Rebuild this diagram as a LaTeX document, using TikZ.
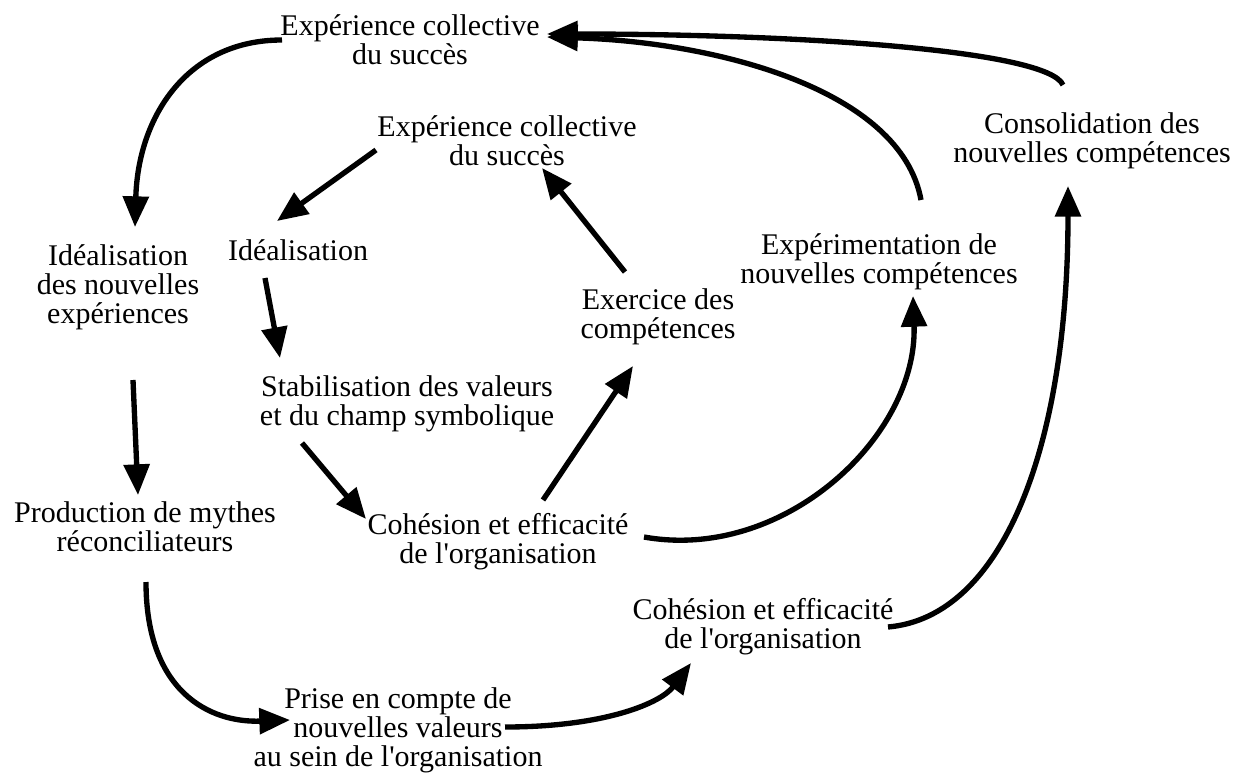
\documentclass[tikz,border=0pt]{standalone}
\usepackage{fontspec}
\setmainfont{Liberation Serif}
\usetikzlibrary{arrows.meta}
\tikzset{
  lbl/.style={align=center, inner sep=0pt, font=\fontsize{22.5}{21.8}\selectfont},
  flow/.style={line width=4pt, -{Triangle[length=23pt,width=19pt]}}
}
\begin{document}
\begin{tikzpicture}[x=0.75pt,y=-0.75pt]
\useasboundingbox (0,0) rectangle (1252,774);
\node[lbl] (topexp) at (410,40) {Expérience collective\\du succès};
\node[lbl] (innerexp) at (507,141) {Expérience collective\\du succès};
\node[lbl] (consol) at (1092,141) {Consolidation des\\nouvelles compétences};
\node[lbl] (idealnouv) at (118,287) {Idéalisation\\des nouvelles\\expériences};
\node[lbl] (ideal) at (298,250) {Idéalisation};
\node[lbl] (experim) at (879,262) {Expérimentation de\\nouvelles compétences};
\node[lbl] (exercice) at (658,317) {Exercice des\\compétences};
\node[lbl] (stabil) at (407,404) {Stabilisation des valeurs\\et du champ symbolique};
\node[lbl] (production) at (145,527) {Production de mythes\\réconciliateurs};
\node[lbl] (cohinner) at (498,542) {Cohésion et efficacité\\de l\textquotesingle organisation};
\node[lbl] (cohouter) at (763,627) {Cohésion et efficacité\\de l\textquotesingle organisation};
\node[lbl] (prise) at (398,730) {Prise en compte de\\nouvelles valeurs\\au sein de l\textquotesingle organisation};

\draw[flow] ([shift={(-128,0)}]topexp.center) .. controls +(-95,0) and +(3,-110) .. ([shift={(17,-60)}]idealnouv.center);
\draw[flow] ([shift={(-131,9)}]innerexp.center) -- ([shift={(-21,-29)}]ideal.center);
\draw[flow] ([shift={(-33,28)}]ideal.center) -- ([shift={(-127,-46)}]stabil.center);
\draw[flow] ([shift={(15,93)}]idealnouv.center) -- ([shift={(-7,-32)}]production.center);
\draw[flow] ([shift={(-105,39)}]stabil.center) -- ([shift={(-132,-23)}]cohinner.center);
\draw[flow] ([shift={(45,-42)}]cohinner.center) -- ([shift={(-25,49)}]exercice.center);
\draw[flow] ([shift={(-33,-45)}]exercice.center) -- ([shift={(35,27)}]innerexp.center);
\draw[flow] ([shift={(146,-5)}]cohinner.center) .. controls +(140,25) and +(5,140) .. ([shift={(34,34)}]experim.center);
\draw[flow] ([shift={(42,-62)}]experim.center) .. controls +(-20,-110) and +(170,5) .. ([shift={(137,-3)}]topexp.center);
\draw[flow] ([shift={(-29,-56)}]consol.center) .. controls +(-15,-35) and +(250,0) .. ([shift={(137,-6)}]topexp.center);
\draw[flow] ([shift={(1,55)}]production.center) .. controls +(0,110) and +(-80,3) .. ([shift={(-108,-10)}]prise.center);
\draw[flow] ([shift={(107,-3)}]prise.center) .. controls +(100,0) and +(-30,40) .. ([shift={(-72,36)}]cohouter.center);
\draw[flow] ([shift={(125,0)}]cohouter.center) .. controls +(115,-10) and +(0,260) .. ([shift={(-24,45)}]consol.center);
\end{tikzpicture}
\end{document}
